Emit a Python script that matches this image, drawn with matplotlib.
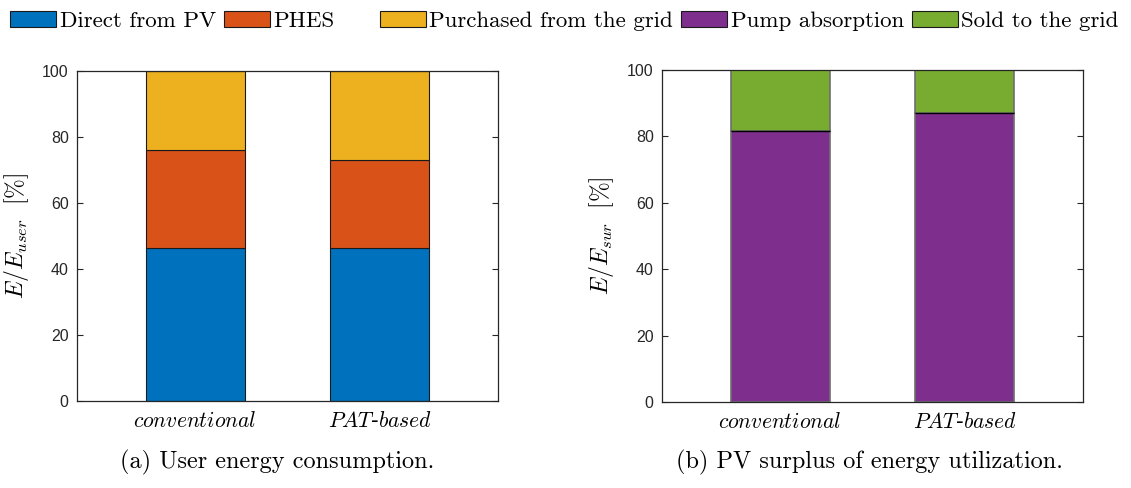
import matplotlib
matplotlib.use("Agg")
import matplotlib.pyplot as plt
from matplotlib.patches import Patch
import numpy as np

plt.rcParams['mathtext.fontset'] = 'cm'
plt.rcParams['axes.unicode_minus'] = False

# Data
schemes = ['conventional', 'PAT-based']
scheme_labels = [r'$conventional$', r'$PAT$-$based$']

# (a) share of user energy consumption [%]
direct_pv = [46.3, 46.3]
phes = [29.8, 26.6]
purchased = [23.9, 27.1]

# (b) share of PV surplus [%]
pump_absorption = [81.7, 87.1]
sold_grid = [18.3, 12.9]

yticks = [0, 20, 40, 60, 80, 100]

colors = {
    'Direct from PV': '#0072BD',
    'PHES': '#D95319',
    'Purchased from the grid': '#EDB120',
    'Pump absorption': '#7E2F8E',
    'Sold to the grid': '#77AC30',
}

serif = 'cmr10'
tick_font = 'Liberation Sans'
spine_col = '#262626'

fig = plt.figure(figsize=(11.31, 4.88), dpi=100)
ax1 = fig.add_axes([0.0681, 0.1783, 0.3722, 0.6762])
ax2 = fig.add_axes([0.5853, 0.1762, 0.3723, 0.6804])

x = np.arange(1, len(schemes) + 1)
w = 0.535


def style_axis(ax):
    ax.set_xlim(0.36, 2.64)
    ax.set_ylim(0, 100)
    ax.set_yticks(yticks)
    ax.set_xticks(x)
    ax.set_xticklabels(scheme_labels, fontsize=15.5)
    ax.tick_params(axis='both', direction='in', length=4, width=0.8,
                   top=True, right=True, color=spine_col)
    ax.tick_params(axis='x', pad=7)
    ax.tick_params(axis='y', pad=6)
    for lab in ax.get_yticklabels():
        lab.set_fontfamily(tick_font)
        lab.set_fontsize(11.5)
        lab.set_color('#262626')
    for s in ax.spines.values():
        s.set_color(spine_col)
        s.set_linewidth(0.9)


# (a) stacked bars
b0 = np.zeros(len(schemes))
for vals, name in [(direct_pv, 'Direct from PV'), (phes, 'PHES'),
                   (purchased, 'Purchased from the grid')]:
    ax1.bar(x, vals, w, bottom=b0, color=colors[name], edgecolor='#1a1a1a',
            linewidth=0.8, zorder=2)
    b0 = b0 + np.array(vals)
style_axis(ax1)
ax1.set_ylabel(r'$E/E_{user}\ \ [\%]$', fontsize=17, labelpad=8)

# (b) stacked bars
ax2.bar(x, pump_absorption, w, color=colors['Pump absorption'],
        edgecolor='#6e6e6e', linewidth=1.2, zorder=2)
ax2.bar(x, sold_grid, w, bottom=pump_absorption, color=colors['Sold to the grid'],
        edgecolor='#6e6e6e', linewidth=1.2, zorder=2)
ax2.hlines(pump_absorption, x - w / 2, x + w / 2, color='black', linewidth=1.0, zorder=3)
style_axis(ax2)
ax2.set_ylabel(r'$E/E_{sur}\ \ [\%]$', fontsize=17, labelpad=8)

# Legend across the top
def handles(names):
    return [Patch(facecolor=colors[n], edgecolor='#1a1a1a', linewidth=0.8, label=n)
            for n in names]

leg_kw = dict(frameon=False, prop={'family': serif, 'size': 16.5},
              handlelength=2.0, handleheight=0.75, handletextpad=0.15,
              columnspacing=0.35, borderaxespad=0)
fig.legend(handles=handles(['Direct from PV', 'PHES']), ncol=2,
           loc='upper left', bbox_to_anchor=(0.001, 0.997), **leg_kw)
fig.legend(handles=handles(['Purchased from the grid', 'Pump absorption', 'Sold to the grid']),
           ncol=3, loc='upper right', bbox_to_anchor=(0.997, 0.997), **leg_kw)

# Sub-captions
fig.text(0.245, 0.052, '(a) User energy consumption.', ha='center', va='center',
         family=serif, fontsize=17.5)
fig.text(0.769, 0.052, '(b) PV surplus of energy utilization.', ha='center', va='center',
         family=serif, fontsize=17.5)

fig.savefig('out.png', dpi=100)
